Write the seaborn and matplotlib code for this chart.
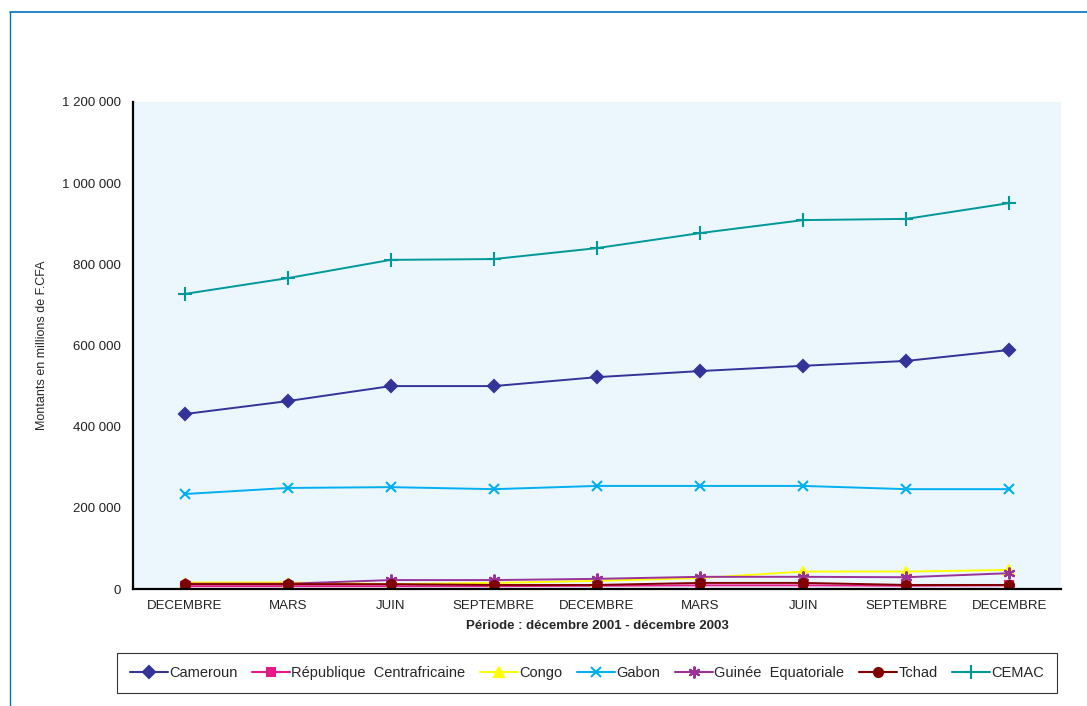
import numpy as np
import matplotlib.pyplot as plt
import matplotlib.ticker as mticker
from matplotlib.lines import Line2D
import pandas as pd
import seaborn as sns

periodes = ['DECEMBRE', 'MARS', 'JUIN', 'SEPTEMBRE', 'DECEMBRE',
            'MARS', 'JUIN', 'SEPTEMBRE', 'DECEMBRE']

cameroun = [431000, 463000, 500000, 500000, 522000, 537000, 550000, 562000, 589000]
rca = [7000, 7000, 7000, 7000, 8000, 9000, 9000, 8000, 9000]
congo = [16000, 16000, 12000, 15000, 20000, 27000, 43000, 43000, 47000]
gabon = [234000, 249000, 251000, 246000, 254000, 254000, 254000, 246000, 246000]
guinee = [13000, 13000, 22000, 22000, 25000, 30000, 30000, 29000, 39000]
tchad = [12000, 12000, 12000, 10000, 10000, 15000, 15000, 10000, 10000]
cemac = [727000, 766000, 811000, 813000, 840000, 877000, 909000, 912000, 951000]

pays = ['Cameroun', 'République  Centrafricaine', 'Congo', 'Gabon',
        'Guinée  Equatoriale', 'Tchad', 'CEMAC']
series = [cameroun, rca, congo, gabon, guinee, tchad, cemac]
couleurs = ['#333399', '#E6198C', '#FFFF00', '#00B0F0', '#993399', '#800000', '#009999']
marqueurs = ['D', 's', '^', 'x', (6, 2, 0), 'o', '+']
tailles = [6, 6, 7, 7.5, 8.5, 6.5, 9.5]

rows = []
for nom, vals in zip(pays, series):
    for i, v in enumerate(vals):
        rows.append({'pos': i, 'pays': nom, 'montant': v})
df = pd.DataFrame(rows)

sns.set_style('white')
plt.rcParams['font.family'] = ['Liberation Sans', 'DejaVu Sans']

fig = plt.figure(figsize=(10.87, 7.06), dpi=100)
ax = fig.add_axes([133 / 1087, 1 - 589 / 706, (1061 - 133) / 1087, (589 - 102) / 706])
ax.set_facecolor('#EBF6FD')

for nom, col, mk, ms in zip(pays, couleurs, marqueurs, tailles):
    sub = df[df['pays'] == nom]
    sns.lineplot(data=sub, x='pos', y='montant', ax=ax, color=col, marker=mk,
                 markersize=ms, markeredgecolor=col, markeredgewidth=1.5,
                 linewidth=1.4, legend=False)

ax.set_xlim(-0.5, len(periodes) - 0.5)
ax.set_ylim(0, 1200000)
ax.yaxis.set_major_locator(mticker.MultipleLocator(200000))
ax.yaxis.set_major_formatter(mticker.FuncFormatter(lambda v, p: f'{int(v):,}'.replace(',', ' ')))

ax.set_xticks(np.arange(len(periodes)))
ax.set_xticklabels(periodes, fontsize=9.5, color='#222222')
ax.set_xticks(np.arange(len(periodes) + 1) - 0.5, minor=True)
ax.tick_params(axis='x', which='major', length=0, pad=8)
ax.tick_params(axis='x', which='minor', length=5, width=1.2, color='black', direction='out')
ax.tick_params(axis='y', length=5, width=1.2, color='black', direction='out',
               labelsize=9.5, labelcolor='#222222')

for s in ['top', 'right']:
    ax.spines[s].set_visible(False)
for s in ['left', 'bottom']:
    ax.spines[s].set_color('black')
    ax.spines[s].set_linewidth(1.6)

ax.set_xlabel('Période : décembre 2001 - décembre 2003', fontsize=9.5,
              fontweight='bold', labelpad=6)
ax.set_ylabel('Montants en millions de F.CFA', fontsize=9, labelpad=10)

handles = [Line2D([0], [0], color=c, marker=m, markersize=s,
                  markeredgecolor=c, markeredgewidth=1.5, linewidth=1.5)
           for c, m, s in zip(couleurs, marqueurs, tailles)]
leg = fig.legend(handles, pays, loc='center', bbox_to_anchor=(587 / 1087, 1 - 673 / 706),
                 ncol=7, fontsize=10.5, frameon=True, fancybox=False,
                 handlelength=2.6, handletextpad=0.1, columnspacing=1.0,
                 borderpad=0.9, borderaxespad=0)
leg.get_frame().set_edgecolor('black')
leg.get_frame().set_linewidth(0.8)

# cadre bleu autour du graphique
fig.add_artist(Line2D([10 / 1087, 1], [1 - 12 / 706, 1 - 12 / 706],
                      transform=fig.transFigure, color='#0070C0', linewidth=1.2))
fig.add_artist(Line2D([10 / 1087, 10 / 1087], [0, 1 - 12 / 706],
                      transform=fig.transFigure, color='#0070C0', linewidth=1.0))

fig.savefig('out.png', dpi=100)
